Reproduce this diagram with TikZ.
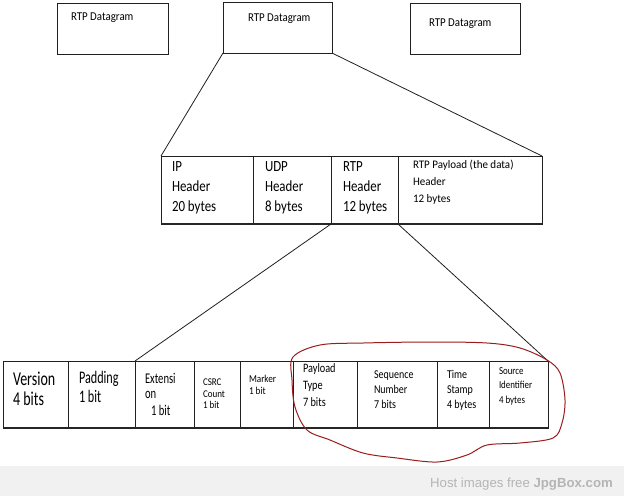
\documentclass[tikz,border=0pt]{standalone}
\usepackage{fontspec}
\setmainfont{Carlito}
\newfontfamily\arialf{Liberation Sans}
\definecolor{redink}{HTML}{9B1C1C}
\definecolor{footbg}{HTML}{F1F1F1}
\definecolor{foottx}{HTML}{B5B5B5}
\definecolor{boxline}{HTML}{202020}
\newcommand\tx[5]{\node[txt,font=\fontsize{#3}{#3}\selectfont] (#1) at (#2) {\scalebox{1}[#4]{#5}};}
\begin{document}
\begin{tikzpicture}[x=1pt,y=-1pt,
  cell/.style={draw=boxline,line width=0.9pt,anchor=north west,inner sep=0pt,outer sep=0pt},
  txt/.style={anchor=base west,inner sep=0pt,outer sep=0pt},
  conn/.style={draw=boxline,line width=0.8pt},
  bottomedge/.style={draw=black!85,line width=2pt},
  redline/.style={draw=redink,line width=1pt}]
\useasboundingbox (0,0) rectangle (624,496);
\fill[white] (0,0) rectangle (624,496);
% top datagram boxes
\node[cell,minimum width=111pt,minimum height=51pt] (dg1) at (57,3) {};
\node[cell,minimum width=109pt,minimum height=51pt] (dg2) at (223,2) {};
\node[cell,minimum width=110pt,minimum height=51pt] (dg3) at (410,3) {};
\tx{d1}{71,20}{10.9}{1.1}{RTP Datagram}
\tx{d2}{248,21}{10.9}{1.1}{RTP Datagram}
\tx{d3}{429,26}{10.9}{1.1}{RTP Datagram}
% middle row
\node[cell,minimum width=92pt,minimum height=68pt] (ip) at (161,156) {};
\node[cell,minimum width=78pt,minimum height=68pt] (udp) at (253,156) {};
\node[cell,minimum width=67pt,minimum height=68pt] (rtp) at (331,156) {};
\node[cell,minimum width=144pt,minimum height=68pt] (pay) at (398,156) {};
\draw[bottomedge] (ip.south west) -- (pay.south east);
\tx{ip1}{172,171}{12.9}{1.2}{IP}
\tx{ip2}{172,191}{12.9}{1.2}{Header}
\tx{ip3}{172,211}{12.9}{1.2}{20 bytes}
\tx{udp1}{265,171}{12.9}{1.2}{UDP}
\tx{udp2}{265,191}{12.9}{1.2}{Header}
\tx{udp3}{265,211}{12.9}{1.2}{8 bytes}
\tx{rtp1}{343,171}{12.9}{1.2}{RTP}
\tx{rtp2}{343,191}{12.9}{1.2}{Header}
\tx{rtp3}{343,211}{12.9}{1.2}{12 bytes}
\tx{pay1}{413,168}{11}{1.05}{RTP Payload (the data)}
\tx{pay2}{413,185}{11}{1.05}{Header}
\tx{pay3}{413,202}{11}{1.05}{12 bytes}
% bottom row
\node[cell,minimum width=65pt,minimum height=67pt] (ver) at (3,361) {};
\node[cell,minimum width=67pt,minimum height=67pt] (pad) at (68,361) {};
\node[cell,minimum width=59pt,minimum height=67pt] (ext) at (135,361) {};
\node[cell,minimum width=46pt,minimum height=67pt] (csrc) at (194,361) {};
\node[cell,minimum width=53pt,minimum height=67pt] (mark) at (240,361) {};
\node[cell,minimum width=64pt,minimum height=67pt] (ptype) at (293,361) {};
\node[cell,minimum width=80pt,minimum height=67pt] (seq) at (357,361) {};
\node[cell,minimum width=52pt,minimum height=67pt] (time) at (437,361) {};
\node[cell,minimum width=59pt,minimum height=67pt] (src) at (489,361) {};
\draw[bottomedge] (ver.south west) -- (src.south east);
\tx{ver1}{13,385}{14}{1.4}{Version}
\tx{ver2}{13,405}{14}{1.4}{4 bits}
\tx{pad1}{79,383}{12.2}{1.45}{Padding}
\tx{pad2}{79,402}{12.2}{1.45}{1 bit}
\tx{ext1}{145,383}{10.6}{1.4}{Extensi}
\tx{ext2}{145,398}{10.6}{1.4}{on}
\tx{ext3}{151,415}{10.6}{1.4}{1 bit}
\tx{cs1}{203,385}{9}{1.15}{CSRC}
\tx{cs2}{203,397}{9}{1.15}{Count}
\tx{cs3}{203,408}{9}{1.15}{1 bit}
\tx{mk1}{249,382}{9.2}{1.15}{Marker}
\tx{mk2}{249,394}{9.2}{1.15}{1 bit}
\tx{pt1}{303,372}{10.3}{1.25}{Payload}
\tx{pt2}{303,389}{10.3}{1.25}{Type}
\tx{pt3}{303,406}{10.3}{1.25}{7 bits}
\tx{sq1}{374,378}{10}{1.2}{Sequence}
\tx{sq2}{374,393}{10}{1.2}{Number}
\tx{sq3}{374,408}{10}{1.2}{7 bits}
\tx{tm1}{447,378}{10}{1.2}{Time}
\tx{tm2}{447,393}{10}{1.2}{Stamp}
\tx{tm3}{447,408}{10}{1.2}{4 bytes}
\tx{so1}{499,374}{8.9}{1.2}{Source}
\tx{so2}{499,388}{8.9}{1.2}{Identifier}
\tx{so3}{499,403}{8.9}{1.2}{4 bytes}
% connectors
\draw[conn] (dg2.south west) -- (ip.north west);
\draw[conn] (dg2.south east) -- (pay.north east);
\draw[conn] (rtp.south west) -- (ext.north west);
\draw[conn] (rtp.south east) -- (src.north east);
% red freehand loop
\draw[redline] plot[smooth cycle, tension=0.55] coordinates {
 (293,357) (320,345) (363,343) (430,342) (487,343) (520,348) (547,360)
 (560,373) (565,400) (562,423) (553,438) (520,443) (487,445) (467,455)
 (437,462) (397,458) (363,453) (330,440) (307,430) (295,407) (292,380)};
% footer
\fill[footbg] (0,466) rectangle (624,496);
\node[anchor=base east,inner sep=0pt,font=\arialf\fontsize{13.2}{13.2}\selectfont,text=foottx] (foot) at (613,487) {Host images free \textbf{JpgBox.com}};
\end{tikzpicture}
\end{document}
